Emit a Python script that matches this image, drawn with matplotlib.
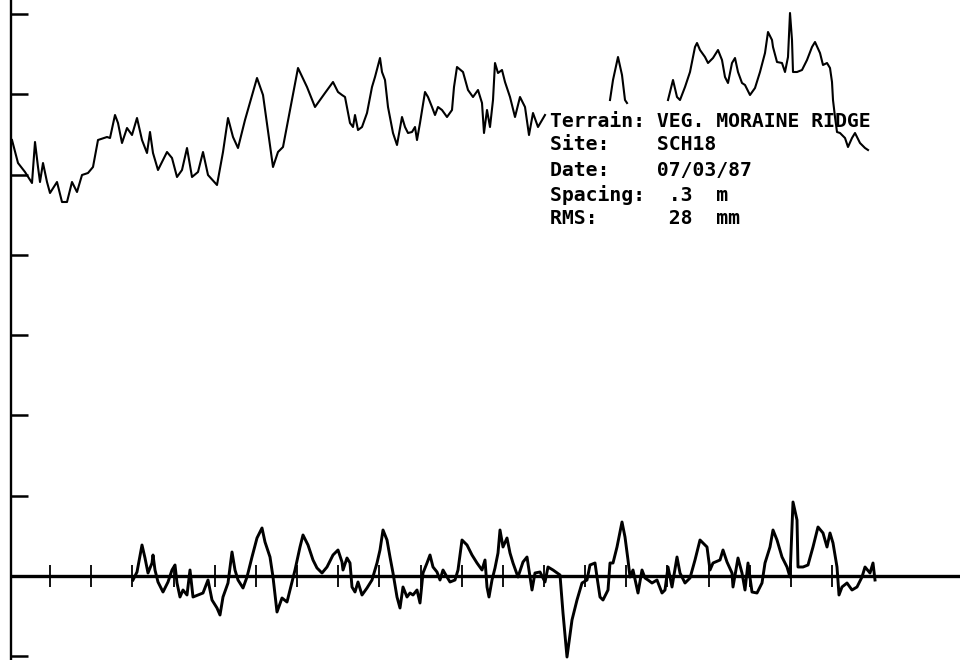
import numpy as np
import matplotlib
matplotlib.use('Agg')
import matplotlib.pyplot as plt

# Profile readings: position along the transect (screen units, baseline marks
# every 41.15) and height above the detrended zero line (tick step = 80.3).
# NaN marks where the trace disappears under the annotation text.
upper_pos = [12, 18, 25, 32, 35, 38, 40, 43, 47, 50, 57, 62, 67, 72, 77, 82, 88, 93, 98, 107,
             110, 115, 118, 122, 127, 132, 137, 142, 147, 150, 153, 158, 167, 172, 177, 182, 187, 192, 198, 203,
             208, 217, 223, 228, 233, 238, 245, 257, 263, 273, 278, 283, 298, 307, 315, 325, 333, 338, 342, 345,
             350, 353, 355, 358, 362, 367, 372, 375, 380, 382, 385, 388, 393, 397, 402, 405, 408, 412, 415, 417,
             420, 425, 428, 432, 435, 438, 442, 447, 452, 454, 457, 463, 468, 473, 478, 482, 484, 487, 490, 493,
             495, 498, 502, 505, 510, 515, 520, 525, 529, 533, 538, 545, np.nan,
             610, 613, 618, 622, 625, 627, np.nan,
             668, 673, 677, 680, 685, 690, 695, 697, 700, 705, 708, 713, 718, 722, 725, 728, 732, 735, 738, 742,
             745, 750, 755, 760, 765, 768, 772, 773, 777, 782, 785, 788, 790, 792, 793, 797, 802, 807, 812, 815,
             820, 823, 827, 830, 832, 833, 835, 837, 840, 845, 848, 852, 855, 860, 865, 868]
upper_height = [436, 413, 404, 393, 434, 409, 394, 413, 394, 383, 394, 374, 374, 394, 384, 401, 403, 409, 436, 439,
                438, 461, 453, 433, 448, 441, 458, 436, 423, 444, 423, 406, 424, 418, 399, 406, 428, 399, 404, 424,
                401, 391, 424, 458, 439, 428, 456, 498, 481, 409, 424, 429, 508, 489, 469, 483, 494, 484, 481, 479,
                453, 449, 461, 446, 449, 463, 489, 499, 518, 504, 496, 469, 443, 431, 459, 449, 443, 444, 449, 436,
                453, 484, 479, 469, 461, 469, 466, 459, 466, 489, 509, 504, 486, 479, 486, 473, 443, 466, 449, 476,
                513, 503, 506, 494, 479, 459, 479, 469, 441, 463, 449, 461, np.nan,
                476, 496, 519, 501, 476, 473, np.nan,
                476, 496, 479, 476, 489, 504, 529, 533, 526, 519, 513, 518, 526, 516, 499, 493, 513, 518, 504, 493,
                491, 481, 488, 504, 523, 544, 536, 529, 514, 513, 504, 519, 563, 536, 504, 504, 506, 516, 529, 534,
                523, 511, 513, 508, 494, 476, 459, 444, 443, 438, 429, 438, 443, 433, 428, 426]

lower_pos = [133, 137, 142, 145, 148, 152, 153, 155, 158, 163, 168, 172, 175, 177, 180, 183, 187, 190, 193, 198,
             203, 208, 212, 217, 220, 223, 228, 232, 235, 238, 243, 247, 252, 257, 262, 265, 270, 273, 277, 282,
             287, 290, 295, 300, 303,
             308, 313, 317, 322, 327, 333, 338, 342, 343, 347, 350, 352, 355, 358, 362, 367, 372, 377, 380, 383,
             387, 390, 393, 397, 400, 403, 407, 410, 413, 417, 420, 423, 427, 430, 433, 437, 440, 443, 447, 450,
             455, 458, 462, 467, 472, 477, 482, 485, 487, 489, 492, 495, 498, 500, 503, 507, 510, 513, 518, 523,
             527, 532, 535, 540, 545, 548, 553, 560, 563, 567, 572, 577, 582, 587, 590, 595, 597,
             600, 603, 608, 610, 613, 617, 622, 625, 628, 630, 633, 638, 642, 645, 648, 652, 657, 662, 665, 668,
             672, 677, 680, 685, 690, 695, 700, 707, 710, 713, 720, 723, 727, 732, 733, 738, 742, 745, 748, 752,
             757, 762, 765, 770, 773, 777, 782, 787, 790, 793, 797, 798, 803, 808, 813, 818, 823, 827, 830, 833,
             837, 839, 842, 847, 852, 857, 862, 865, 870, 873, 875]
lower_height = [-4, 4, 31, 18, 3, 13, 21, 6, -6, -16, -6, 6, 11, -7, -21, -14, -19, 6, -21, -19,
                -17, -4, -24, -32, -39, -21, -7, 24, 6, -4, -12, -1, 19, 38, 48, 34, 19, -1, -36, -22,
                -26, -14, 6, 29, 41,
                31, 16, 8, 3, 9, 21, 26, 14, 6, 18, 13, -11, -16, -6, -19, -12, -4, 13, 26, 46,
                36, 19, 3, -21, -32, -11, -21, -17, -19, -14, -27, 3, 13, 21, 9, 4, -4, 6, -1, -6,
                -4, 6, 36, 31, 21, 13, 6, 16, -11, -21, -4, 8, 23, 46, 29, 38, 23, 13, -1, 14,
                19, -14, 3, 4, -6, 9, 6, 1, -37, -81, -44, -24, -7, -4, 11, 13, -1,
                -21, -24, -14, 13, 13, 29, 54, 39, 16, -1, 6, -17, 6, -2, -4, -7, -4, -17, -14, 9,
                -11, 19, 3, -7, -2, 16, 36, 29, 6, 13, 16, 26, 14, 3, -11, 18, 3, -14, 13, -16,
                -17, -7, 13, 29, 46, 36, 19, 9, -1, 74, 56, 9, 9, 11, 29, 49, 43, 29, 43, 33,
                9, -19, -11, -7, -14, -11, -1, 9, 3, 13, -4]

info_labels = ['Terrain:', 'Site:', 'Date:', 'Spacing:', 'RMS:']
info_values = ['VEG. MORAINE RIDGE', 'SCH18', '07/03/87', '.3', '28']
info_units = ['', '', '', 'm', 'mm']

tick_step = 80.3
mark_step = 41.15

fig = plt.figure(figsize=(9.6, 6.6), dpi=100)
ax = fig.add_axes([0, 0, 1, 1])
ax.set_xlim(0, 960)
ax.set_ylim(-84, 576)
ax.axis('off')

# frame: left axis with ticks, zero line with distance marks
ax.vlines(11, -84, 576, color='black', lw=1.7)
ax.hlines(np.arange(-1, 8) * tick_step, 11, 28, color='black', lw=1.8)
ax.hlines(0, 11, 960, color='black', lw=2.4)
ax.vlines(9 + mark_step * np.arange(1, 21), -11, 11, color='black', lw=1.3)

# raw and detrended profiles
ax.plot(upper_pos, upper_height, color='black', lw=1.5)
ax.plot(lower_pos, lower_height, color='black', lw=2.1)

# annotation block, monospaced columns like the plotter output
baselines = [449, 426, 400, 375, 352]
for lab, val, unit, yb in zip(info_labels, info_values, info_units, baselines):
    if unit:
        line = f'{lab:<10}{val:<4}{unit}'
    else:
        line = f'{lab:<9}{val}'
    ax.text(550, yb, line, va='baseline', ha='left', family='DejaVu Sans Mono',
            weight='bold', size=14.2)

plt.savefig('out.png', dpi=100)
